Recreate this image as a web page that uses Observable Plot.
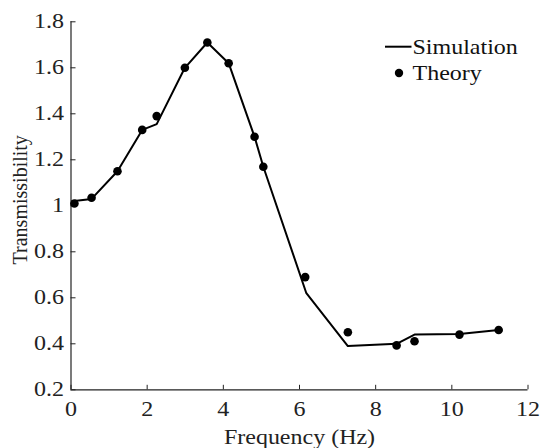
<!DOCTYPE html>
<html>
<head>
<meta charset="utf-8">
<script src="https://cdn.jsdelivr.net/npm/d3@7"></script>
<script src="https://cdn.jsdelivr.net/npm/@observablehq/plot@0.6"></script>
<style>
  html, body { margin: 0; padding: 0; background: #fff; }
  #wrap { position: relative; width: 541px; height: 448px; }
  #legend { position: absolute; left: 0; top: 0; pointer-events: none; }
  text { font-family: "Liberation Serif", "Times New Roman", serif; }
</style>
</head>
<body>
<div id="wrap"></div>
<script>
// Data
const simX = [0.03, 0.54, 1.22, 1.87, 2.25, 2.99, 3.58, 4.14, 4.82, 5.05, 6.18, 7.27, 8.55, 9.02, 10.2, 11.23];
const simY = [1.02, 1.03, 1.15, 1.33, 1.355, 1.6, 1.71, 1.62, 1.30, 1.17, 0.62, 0.39, 0.40, 0.44, 0.443, 0.46];
const theoryX = [0.09, 0.54, 1.22, 1.87, 2.25, 2.99, 3.58, 4.14, 4.82, 5.05, 6.15, 7.27, 8.55, 9.02, 10.2, 11.23];
const theoryY = [1.01, 1.035, 1.15, 1.33, 1.39, 1.6, 1.71, 1.62, 1.30, 1.17, 0.69, 0.45, 0.393, 0.411, 0.44, 0.46];
const xTicks = [0, 2, 4, 6, 8, 10, 12];
const yTicks = [0.2, 0.4, 0.6, 0.8, 1.0, 1.2, 1.4, 1.6, 1.8];
const xLabel = "Frequency (Hz)";
const yLabel = "Transmissibility";
const seriesNames = ["Simulation", "Theory"];

const sim = simX.map((x, i) => ({x, y: simY[i]}));
const theory = theoryX.map((x, i) => ({x, y: theoryY[i]}));
const ink = "#222";

const chart = Plot.plot({
  width: 541,
  height: 448,
  marginLeft: 70.5,
  marginRight: 13.5,
  marginTop: 21.3,
  marginBottom: 58.7,
  style: {fontFamily: "'Liberation Serif', 'Times New Roman', serif", fontSize: "20px", color: ink, background: "#fff"},
  x: {domain: [xTicks[0], xTicks[xTicks.length - 1]]},
  y: {domain: [yTicks[0], yTicks[yTicks.length - 1]]},
  marks: [
    Plot.ruleY([yTicks[0]], {stroke: ink, strokeWidth: 1.2}),
    Plot.ruleX([xTicks[0]], {stroke: ink, strokeWidth: 1.2}),
    Plot.axisX({ticks: xTicks, tickSize: -4.5, tickPadding: 16, tickFormat: d => String(d), label: null, stroke: ink, fill: ink}),
    Plot.axisY({ticks: yTicks, tickSize: -5, tickPadding: 12, tickFormat: d => String(+d.toFixed(1)), label: null, stroke: ink, fill: ink}),
    Plot.line(sim, {x: "x", y: "y", stroke: "#000", strokeWidth: 2}),
    Plot.dot(theory, {x: "x", y: "y", r: 4.3, fill: "#000", stroke: "none"}),
    Plot.text([xLabel], {frameAnchor: "bottom", dy: 40, lineAnchor: "top", textAnchor: "middle", text: d => d, fill: ink, fontSize: 20}),
    Plot.text([yLabel], {frameAnchor: "left", dx: -58.5, dy: -6, rotate: -90, lineAnchor: "top", textAnchor: "middle", text: d => d, fill: ink, fontSize: 20})
  ]
});

// Horizontal stretch of upright text to match the reference's wide lettering
chart.querySelectorAll("text").forEach(t => {
  const tr = t.getAttribute("transform") || "";
  if (/rotate/.test(tr)) return;
  let x = parseFloat(t.getAttribute("x"));
  if (!isFinite(x)) x = 0;
  t.setAttribute("transform", `${tr} translate(${x},0) scale(1.2,1) translate(${-x},0)`);
});

const wrap = document.getElementById("wrap");
wrap.appendChild(chart);

// Legend overlay
const NS = "http://www.w3.org/2000/svg";
const lg = document.createElementNS(NS, "svg");
lg.setAttribute("id", "legend");
lg.setAttribute("width", 541);
lg.setAttribute("height", 448);
const line = document.createElementNS(NS, "line");
line.setAttribute("x1", 385); line.setAttribute("x2", 411.5);
line.setAttribute("y1", 46.7); line.setAttribute("y2", 46.7);
line.setAttribute("stroke", "#000"); line.setAttribute("stroke-width", 2);
lg.appendChild(line);
const dot = document.createElementNS(NS, "circle");
dot.setAttribute("cx", 399); dot.setAttribute("cy", 73); dot.setAttribute("r", 4.2);
dot.setAttribute("fill", "#000");
lg.appendChild(dot);
[[seriesNames[0], 54], [seriesNames[1], 80]].forEach(([s, by]) => {
  const t = document.createElementNS(NS, "text");
  t.setAttribute("transform", `translate(412.5,${by}) scale(1.2,1)`);
  t.setAttribute("font-size", 20);
  t.setAttribute("fill", "#111");
  t.textContent = s;
  lg.appendChild(t);
});
wrap.appendChild(lg);
</script>
</body>
</html>
